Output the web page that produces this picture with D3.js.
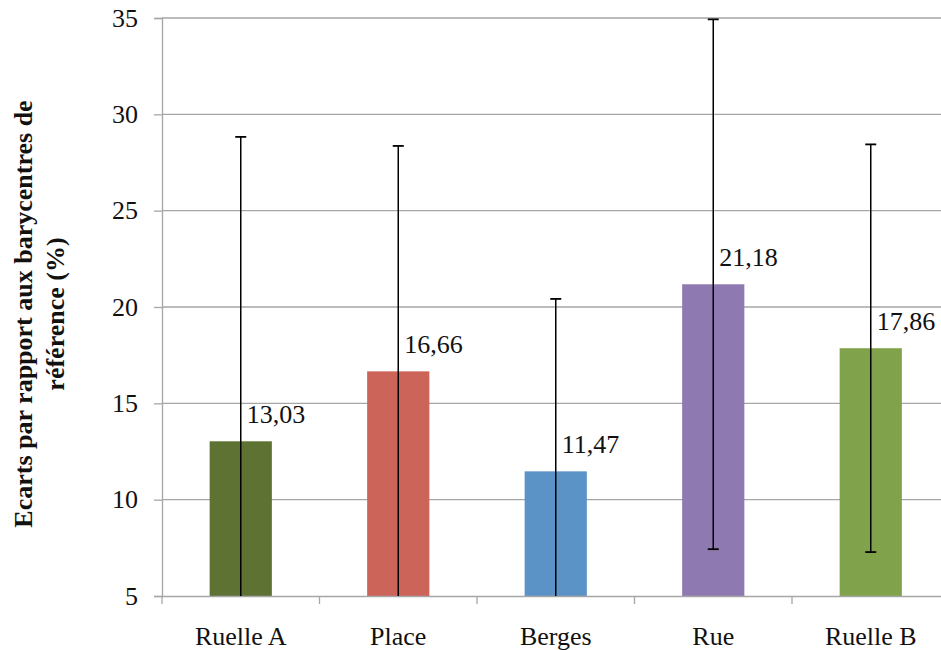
<!DOCTYPE html>
<html>
<head>
<meta charset="utf-8">
<script src="https://cdn.jsdelivr.net/npm/d3@7"></script>
<style>
  html, body { margin: 0; padding: 0; background: #fff; }
  svg { display: block; }
  svg text { font-family: "Liberation Serif", "Times New Roman", serif; }
</style>
</head>
<body>
<svg id="chart" width="941" height="650"></svg>
<script>
const categories = ["Ruelle A", "Place", "Berges", "Rue", "Ruelle B"];
const means = [13.03, 16.66, 11.47, 21.18, 17.86];
const errors = [15.8, 11.7, 8.95, 13.75, 10.58];
const labels = ["13,03", "16,66", "11,47", "21,18", "17,86"];
const yTicks = [5, 10, 15, 20, 25, 30, 35];
const colors = ["#5e7234", "#cc645a", "#5b93c7", "#8e7ab0", "#80a24a"];
const yTitle = ["Ecarts par rapport aux barycentres de", "référence (%)"];

(function () {
const FONT = "Liberation Serif";
const svg = d3.select("#chart");
const mLeft = 162, mRight = 949.5, mTop = 18, mBottom = 596;

const x = d3.scaleBand().domain(categories).range([mLeft, mRight]).padding(0);
const y = d3.scaleLinear().domain([5, 35]).range([mBottom, mTop]);
const barW = x.bandwidth() * 0.395;

// gridlines
svg.append("g").selectAll("line").data(yTicks.slice(1)).join("line")
  .attr("x1", mLeft).attr("x2", 941)
  .attr("y1", d => y(d)).attr("y2", d => y(d))
  .attr("stroke", "#a6a6a6").attr("stroke-width", 1.3);

// bars
const data = categories.map((c, i) => ({c, m: means[i], e: errors[i], l: labels[i], col: colors[i]}));
svg.append("g").selectAll("rect").data(data).join("rect")
  .attr("x", d => x(d.c) + x.bandwidth() / 2 - barW / 2)
  .attr("width", barW)
  .attr("y", d => y(d.m))
  .attr("height", d => y(5) - y(d.m))
  .attr("fill", d => d.col);

// y axis
const yAxis = svg.append("g").attr("transform", `translate(${mLeft},0)`)
  .call(d3.axisLeft(y).tickValues(yTicks).tickSize(8).tickPadding(16));
yAxis.attr("font-family", FONT);
yAxis.select(".domain").attr("stroke", "#a6a6a6").attr("stroke-width", 1.3);
yAxis.selectAll(".tick line").attr("stroke", "#a6a6a6").attr("stroke-width", 1.3);
yAxis.selectAll(".tick text").attr("font-size", 26).attr("fill", "#111")
  .attr("font-family", FONT);

// x axis
const xAxis = svg.append("g").attr("transform", `translate(0,${mBottom})`)
  .call(d3.axisBottom(x).tickSize(0).tickPadding(0));
xAxis.attr("font-family", FONT);
xAxis.select(".domain").attr("stroke", "#a6a6a6").attr("stroke-width", 1.3);
xAxis.selectAll(".tick text").attr("font-size", 26).attr("fill", "#111")
  .attr("font-family", FONT)
  .attr("dy", 0).attr("y", 49);
// boundary ticks
svg.append("g").selectAll("line").data(categories).join("line")
  .attr("x1", d => x(d)).attr("x2", d => x(d))
  .attr("y1", mBottom).attr("y2", mBottom + 8)
  .attr("stroke", "#a6a6a6").attr("stroke-width", 1.3);

// error bars
const eb = svg.append("g");
data.forEach(d => {
  const cx = x(d.c) + x.bandwidth() / 2;
  const hi = d.m + d.e, lo = d.m - d.e;
  const loC = Math.max(lo, 5), hiC = Math.min(hi, 35);
  eb.append("line").attr("x1", cx).attr("x2", cx)
    .attr("y1", y(loC)).attr("y2", y(hiC))
    .attr("stroke", "#000").attr("stroke-width", 1.5);
  if (hi <= 35.05) eb.append("line").attr("x1", cx - 5.5).attr("x2", cx + 5.5)
    .attr("y1", y(hi)).attr("y2", y(hi)).attr("stroke", "#000").attr("stroke-width", 1.8);
  if (lo >= 5) eb.append("line").attr("x1", cx - 5.5).attr("x2", cx + 5.5)
    .attr("y1", y(lo)).attr("y2", y(lo)).attr("stroke", "#000").attr("stroke-width", 1.8);
});

// value labels
svg.append("g").selectAll("text").data(data).join("text")
  .attr("x", d => x(d.c) + x.bandwidth() / 2 + 6)
  .attr("y", d => y(d.m) - 18)
  .attr("font-family", FONT)
  .attr("font-size", 26).attr("fill", "#111")
  .text(d => d.l);

// y title
const t = svg.append("text")
  .attr("transform", "translate(0,314) rotate(-90)")
  .attr("text-anchor", "middle")
  .attr("font-family", FONT)
  .attr("font-weight", "bold").attr("font-size", 26).attr("fill", "#111");
t.selectAll("tspan").data(yTitle).join("tspan")
  .attr("x", 0).attr("y", (d, i) => 32 + i * 32)
  .text(d => d);
})();
</script>
</body>
</html>
